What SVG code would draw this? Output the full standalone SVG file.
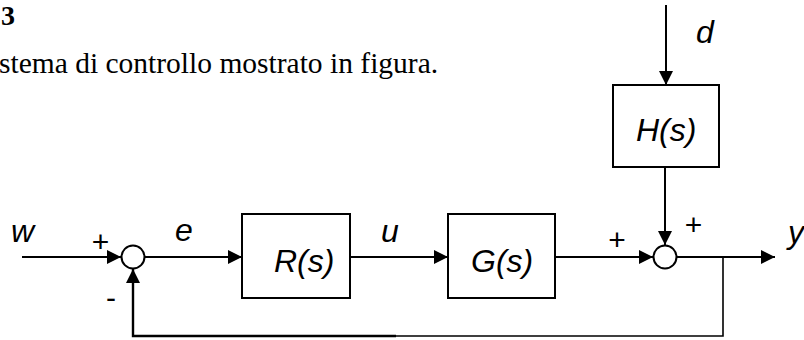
<svg xmlns="http://www.w3.org/2000/svg" width="804" height="340" viewBox="0 0 804 340">
  <style>
    .ln { fill: none; stroke: #000; stroke-width: 2; }
    .box { fill: #fff; stroke: #000; stroke-width: 2; }
    .sum { fill: #fff; stroke: #000; stroke-width: 2; }
    .lbl { font-family: "Liberation Sans", Arial, sans-serif; font-style: italic; font-size: 32px; fill: #000; }
    .sign { font-family: "Liberation Sans", Arial, sans-serif; font-size: 30px; fill: #000; }
    .body { font-family: "Liberation Serif", "Times New Roman", serif; font-size: 29.5px; fill: #000; }
  </style>
  <defs>
    <marker id="arrow" markerUnits="userSpaceOnUse" markerWidth="14" markerHeight="14" refX="14" refY="7" orient="auto">
      <path d="M0,0 L14,7 L0,14 z" fill="#000"/>
    </marker>
  </defs>

  <!-- heading text -->
  <text class="body" x="1" y="25" font-weight="bold" style="font-size:28px">3</text>
  <text class="body" x="-1" y="73">stema di controllo mostrato in figura.</text>

  <!-- connectors -->
  <g id="connectors">
    <path class="ln" d="M22,257 L121,257" marker-end="url(#arrow)"/>
    <path class="ln" d="M145,257 L242,257" marker-end="url(#arrow)"/>
    <path class="ln" d="M350,257 L448,257" marker-end="url(#arrow)"/>
    <path class="ln" d="M555,257 L653,257" marker-end="url(#arrow)"/>
    <path class="ln" d="M677,257 L775,257" marker-end="url(#arrow)"/>
    <path class="ln" d="M666,5 L666,85" marker-end="url(#arrow)"/>
    <path class="ln" d="M665,167 L665,245" marker-end="url(#arrow)"/>
    <path class="ln" d="M723,257 L723,336 L395,336" style="stroke-width:1.6"/>
    <path class="ln" d="M396,336 L133,336 L133,269" style="stroke-width:2.4" marker-end="url(#arrow)"/>
  </g>

  <!-- summing junctions -->
  <g id="sum1">
    <circle class="sum" cx="133" cy="257" r="11.5"/>
    <text class="sign" x="100.5" y="252" text-anchor="middle">+</text>
    <text class="sign" x="111" y="308" text-anchor="middle">-</text>
  </g>
  <g id="sum2">
    <circle class="sum" cx="665" cy="257" r="11.5"/>
    <text class="sign" x="617" y="250" text-anchor="middle">+</text>
    <text class="sign" x="693.5" y="235" text-anchor="middle">+</text>
  </g>

  <!-- blocks -->
  <g id="R">
    <rect class="box" x="242" y="214" width="108" height="84"/>
    <text class="lbl" x="274" y="272">R(s)</text>
  </g>
  <g id="G">
    <rect class="box" x="448" y="214" width="107" height="84"/>
    <text class="lbl" x="471" y="272">G(s)</text>
  </g>
  <g id="H">
    <rect class="box" x="613" y="85" width="106" height="82"/>
    <text class="lbl" x="636" y="141">H(s)</text>
  </g>

  <!-- signal labels -->
  <g id="signals">
    <text class="lbl" x="11" y="242">w</text>
    <text class="lbl" x="175" y="241">e</text>
    <text class="lbl" x="381" y="242">u</text>
    <text class="lbl" x="696" y="43">d</text>
    <text class="lbl" x="788" y="243">y</text>
  </g>
</svg>
